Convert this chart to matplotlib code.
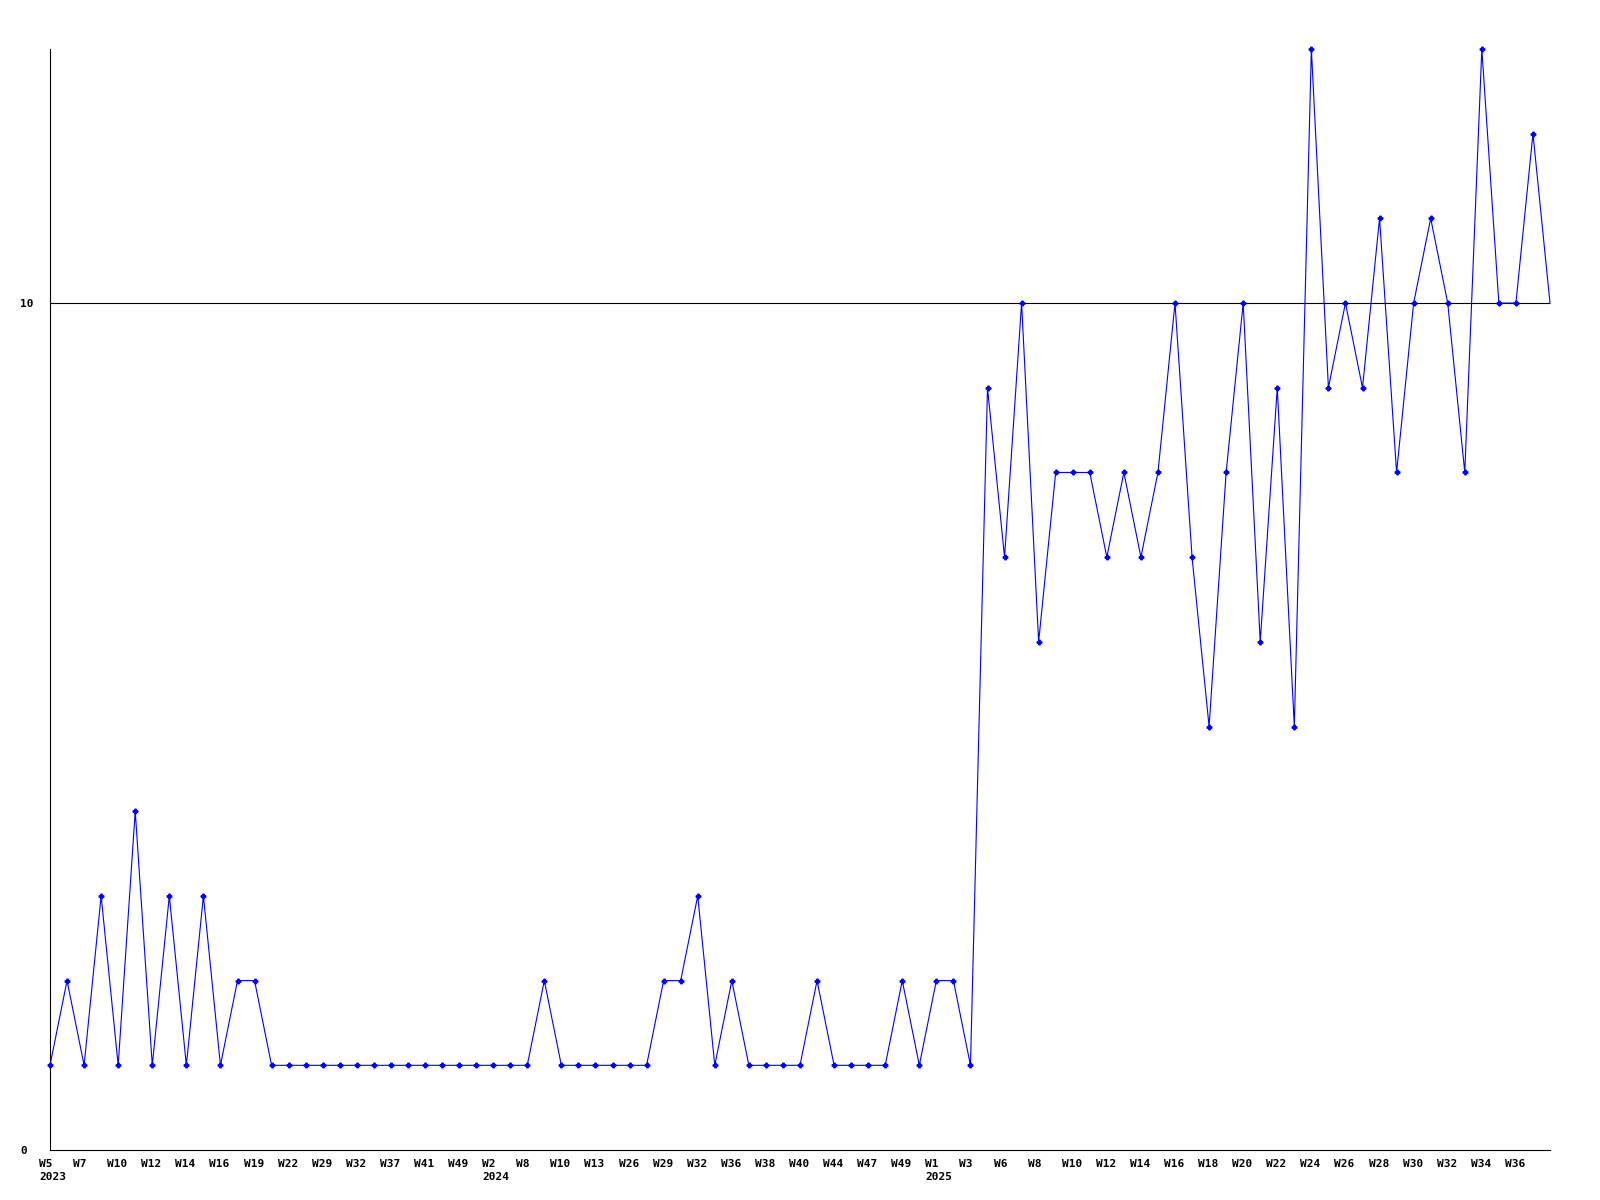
import matplotlib
matplotlib.use("Agg")
import matplotlib.pyplot as plt
import numpy as np

# weekly counts, one entry per data point (every 2nd label is shown)
weeks = [
    "W5", "W6", "W7", "W9", "W10", "W11", "W12", "W13", "W14", "W15",
    "W16", "W18", "W19", "W21", "W22", "W25", "W29", "W31", "W32", "W35",
    "W37", "W39", "W41", "W45", "W49", "W51",
    "W2", "W5", "W8", "W9", "W10", "W12", "W13", "W20", "W26", "W28",
    "W29", "W31", "W32", "W34", "W36", "W37", "W38", "W39", "W40", "W42",
    "W44", "W46", "W47", "W48", "W49", "W51",
    "W1", "W2", "W3", "W5", "W6", "W7", "W8", "W9", "W10", "W11",
    "W12", "W13", "W14", "W15", "W16", "W17", "W18", "W19", "W20", "W21",
    "W22", "W23", "W24", "W25", "W26", "W27", "W28", "W29", "W30", "W31",
    "W32", "W33", "W34", "W35", "W36", "W37", "W38",
]
year_starts = {0: "2023", 26: "2024", 52: "2025"}

counts = [
    1, 2, 1, 3, 1, 4, 1, 3, 1, 3,
    1, 2, 2, 1, 1, 1, 1, 1, 1, 1,
    1, 1, 1, 1, 1, 1, 1, 1, 1, 2,
    1, 1, 1, 1, 1, 1, 2, 2, 3, 1,
    2, 1, 1, 1, 1, 2, 1, 1, 1, 1,
    2, 1, 2, 2, 1, 9, 7, 10, 6, 8,
    8, 8, 7, 8, 7, 8, 10, 7, 5, 8,
    10, 6, 9, 5, 13, 9, 10, 9, 11, 8,
    10, 11, 10, 8, 13, 10, 10, 12, 10,
]

x = np.arange(len(counts))

fig = plt.figure(figsize=(16, 12), dpi=100)
ax = fig.add_axes([50 / 1600, 50 / 1200, 1500 / 1600, 1101 / 1200])

ax.plot(x, counts, color="#0000ff", linewidth=0.8, marker="P", markersize=3.3,
        markevery=list(range(len(counts) - 1)), clip_on=False, zorder=3)
ax.axhline(10, color="black", linewidth=0.8, zorder=2)

ax.set_xlim(0, len(counts) - 1)
ax.set_ylim(0, 13)

for side in ["top", "right"]:
    ax.spines[side].set_visible(False)
for side in ["left", "bottom"]:
    ax.spines[side].set_linewidth(0.8)

tick_idx = x[::2][:44]
labels = []
for i in tick_idx:
    lab = weeks[i]
    if i in year_starts:
        lab += "\n" + year_starts[i]
    labels.append(lab)
ax.set_xticks(tick_idx)
ax.set_xticklabels(labels, fontfamily="DejaVu Sans Mono", fontweight="bold",
                   fontsize=8, ha="left", multialignment="left", linespacing=1.35)
ax.set_yticks([0, 10])
ax.set_yticklabels(["0", "10"], fontfamily="DejaVu Sans Mono",
                   fontweight="bold", fontsize=8, ha="left")
ax.tick_params(axis="x", length=0, pad=6.5)
ax.tick_params(axis="y", length=0, pad=21.5)

# shift x labels so they start slightly left of their tick
offset = matplotlib.transforms.ScaledTranslation(-11 / 100, 0, fig.dpi_scale_trans)
for t in ax.get_xticklabels():
    t.set_transform(t.get_transform() + offset)

fig.savefig("out.png", dpi=100)
